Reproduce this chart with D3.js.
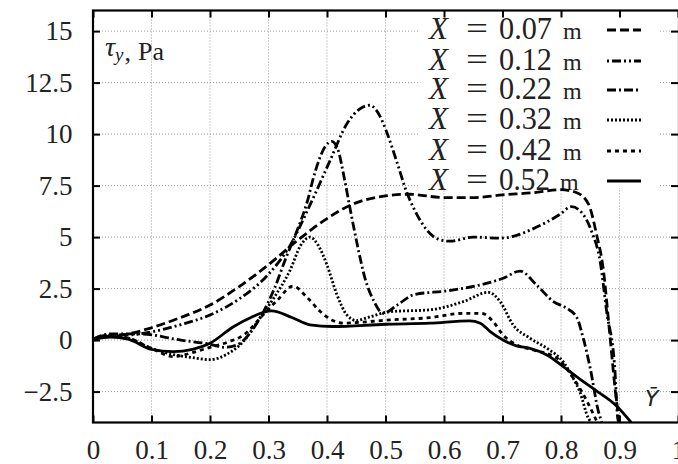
<!DOCTYPE html>
<html><head><meta charset="utf-8">
<script src="https://cdn.jsdelivr.net/npm/d3@7"></script>
<style>html,body{margin:0;padding:0;background:#fff;}svg{display:block;}</style>
</head><body>
<svg id="chart" width="678" height="464"></svg>
<script>
// ---- data ----
const xTicks = [0,0.1,0.2,0.3,0.4,0.5,0.6,0.7,0.8,0.9,1];
const xTickLabels = ["0","0.1","0.2","0.3","0.4","0.5","0.6","0.7","0.8","0.9","1"];
const yTicks = [-2.5,0,2.5,5,7.5,10,12.5,15];
const yTickLabels = ["\u22122.5","0","2.5","5","7.5","10","12.5","15"];
const seriesNames = ["0.07","0.12","0.22","0.32","0.42","0.52"];

const s007 = [[0,0.05],[0.03,0.2],[0.06,0.3],[0.1,0.6],[0.15,1.1],[0.2,1.7],[0.25,2.6],[0.3,3.66],[0.354,4.94],[0.4,5.9],[0.44,6.55],[0.5,7.0],[0.54,7.08],[0.6,6.92],[0.65,6.92],[0.7,7.05],[0.75,7.15],[0.8,7.3],[0.827,7.15],[0.847,6.6],[0.861,5.1],[0.872,3.5],[0.884,0.1],[0.895,-3.0],[0.9,-4]];
const s012 = [[0,0.05],[0.03,0.25],[0.06,0.25],[0.1,0.4],[0.15,0.75],[0.2,1.22],[0.25,2.0],[0.3,3.2],[0.337,4.6],[0.37,6.5],[0.405,8.7],[0.434,10.5],[0.455,11.2],[0.473,11.4],[0.49,10.9],[0.502,10.1],[0.52,8.6],[0.536,7.2],[0.55,6.3],[0.564,5.6],[0.59,4.9],[0.61,4.8],[0.65,5.0],[0.696,4.95],[0.72,5.05],[0.752,5.4],[0.798,6.1],[0.818,6.48],[0.835,6.2],[0.852,5.3],[0.867,3.8],[0.878,1.4],[0.892,-1.4],[0.897,-3.8],[0.899,-4]];
const s022 = [[0,0.05],[0.03,0.3],[0.08,0.3],[0.15,0.0],[0.2,-0.2],[0.225,-0.35],[0.245,-0.25],[0.27,0.4],[0.29,1.3],[0.31,2.5],[0.33,4.0],[0.35,5.4],[0.365,6.6],[0.38,8.2],[0.397,9.4],[0.408,9.65],[0.418,9.3],[0.43,7.8],[0.44,6.3],[0.452,4.6],[0.465,3.0],[0.48,1.9],[0.496,1.3],[0.52,1.7],[0.548,2.2],[0.605,2.39],[0.662,2.68],[0.701,3.0],[0.73,3.35],[0.758,2.68],[0.787,1.87],[0.81,1.54],[0.827,1.1],[0.838,0.1],[0.85,-1.37],[0.864,-3.47],[0.87,-4]];
const s032 = [[0,0.05],[0.03,0.25],[0.06,0.1],[0.1,-0.4],[0.137,-0.7],[0.17,-0.85],[0.2,-0.95],[0.228,-0.7],[0.257,-0.07],[0.285,1.06],[0.308,2.0],[0.337,3.4],[0.355,4.6],[0.371,5.0],[0.385,4.6],[0.4,3.65],[0.417,2.2],[0.434,1.22],[0.45,0.95],[0.47,1.1],[0.508,1.38],[0.576,1.47],[0.633,1.87],[0.676,2.32],[0.696,1.87],[0.718,0.74],[0.747,0.09],[0.776,-0.4],[0.805,-1.1],[0.82,-1.8],[0.832,-2.5],[0.847,-3.8],[0.852,-4]];
const s042 = [[0,0.05],[0.03,0.2],[0.06,0.1],[0.1,-0.4],[0.137,-0.8],[0.171,-0.6],[0.2,-0.35],[0.23,-0.1],[0.26,0.3],[0.29,1.2],[0.314,1.9],[0.342,2.62],[0.365,2.1],[0.388,1.4],[0.408,0.98],[0.428,0.82],[0.45,0.85],[0.508,0.98],[0.576,1.09],[0.633,1.3],[0.664,1.3],[0.684,0.9],[0.701,0.25],[0.724,-0.23],[0.753,-0.48],[0.793,-0.88],[0.82,-1.8],[0.845,-3.0],[0.862,-4]];
const s052 = [[0,0.05],[0.03,0.15],[0.06,0.05],[0.1,-0.45],[0.137,-0.56],[0.17,-0.45],[0.2,-0.15],[0.24,0.65],[0.27,1.1],[0.305,1.42],[0.34,1.1],[0.371,0.74],[0.41,0.66],[0.5,0.77],[0.576,0.82],[0.644,0.93],[0.662,0.82],[0.679,0.41],[0.701,0.0],[0.724,-0.28],[0.747,-0.4],[0.776,-0.72],[0.804,-1.29],[0.83,-1.85],[0.86,-2.45],[0.895,-3.2],[0.92,-4]];
const seriesData = [s007,s012,s022,s032,s042,s052];
const dashes = ["9,4","2,3,9,3,2,3","9,3,2,3","2,2","4,4",null];

// ---- layout ----
const L = 93, R = 679, T = 10.5, B = 422.5;
const svg = d3.select("#chart");
const x = d3.scaleLinear().domain([0,1]).range([L, 678]);
const y = d3.scaleLinear().domain([-4,16]).range([B, T]);
const serif = "Liberation Serif, serif";

// grid
const grid = svg.append("g");
grid.selectAll("line.v").data(xTicks.slice(1,-1)).enter().append("line")
  .attr("x1", d=>x(d)).attr("x2", d=>x(d)).attr("y1", T).attr("y2", B)
  .attr("stroke","#9a9a9a").attr("stroke-width",1).attr("stroke-dasharray","1,2");
grid.selectAll("line.h").data(yTicks).enter().append("line")
  .attr("x1", L).attr("x2", R).attr("y1", d=>y(d)).attr("y2", d=>y(d))
  .attr("stroke","#9a9a9a").attr("stroke-width",1).attr("stroke-dasharray","1,2");

// legend background (opaque box, no border)
svg.append("rect").attr("x",420).attr("y",12).attr("width",238).attr("height",176).attr("fill","#fff");

// axes
const fmtX = d => xTickLabels[xTicks.indexOf(d)];
const fmtY = d => yTickLabels[yTicks.indexOf(d)];
const axB = svg.append("g").attr("transform",`translate(0,${B})`)
  .call(d3.axisBottom(x).tickValues(xTicks).tickFormat(fmtX).tickSize(-7).tickPadding(17));
const axT = svg.append("g").attr("transform",`translate(0,${T})`)
  .call(d3.axisTop(x).tickValues(xTicks).tickFormat("").tickSize(-7));
const axL = svg.append("g").attr("transform",`translate(${L},0)`)
  .call(d3.axisLeft(y).tickValues(yTicks).tickFormat(fmtY).tickSize(-7).tickPadding(20.5));
const axR = svg.append("g").attr("transform",`translate(${R-1},0)`)
  .call(d3.axisRight(y).tickValues(yTicks).tickFormat("").tickSize(-7));
[axB,axT,axL,axR].forEach(g=>{
  g.attr("font-family",serif).attr("font-size",27);
  g.select(".domain").remove();
  g.selectAll(".tick line").attr("stroke","#000").attr("stroke-width",2);
  g.selectAll(".tick text").attr("font-family",serif).attr("font-size",27).attr("fill","#222");
});
// frame
svg.append("rect").attr("x",L).attr("y",T).attr("width",R-L).attr("height",B-T)
  .attr("fill","none").attr("stroke","#000").attr("stroke-width",2.2);

// clip
svg.append("clipPath").attr("id","clip").append("rect")
  .attr("x",L).attr("y",T).attr("width",R-L).attr("height",B-T);

// legend
const legY = [29,60,89,119,150,180];
const leg = svg.append("g");
seriesNames.forEach((n,i)=>{
  const by = legY[i] + 10;
  const t = leg.append("text").attr("y",by).attr("font-family",serif).attr("font-size",31).attr("fill","#222");
  t.append("tspan").attr("x",429).attr("font-style","italic").text("X");
  t.append("tspan").attr("x",466).attr("textLength",22).attr("lengthAdjust","spacingAndGlyphs").text("=");
  t.append("tspan").attr("x",499).attr("textLength",i===5?51:53).attr("lengthAdjust","spacingAndGlyphs").text(n);
  t.append("tspan").attr("x",i===5?560:563).attr("font-size",24).text("m");
  const ln = leg.append("line").attr("x1",607).attr("x2",641).attr("y1",legY[i]+1).attr("y2",legY[i]+1)
    .attr("stroke","#000").attr("stroke-width",3);
  if (dashes[i]) ln.attr("stroke-dasharray", dashes[i]);
});

// curves
const line = d3.line().x(d=>x(d[0])).y(d=>y(d[1])).curve(d3.curveMonotoneX);
const cg = svg.append("g").attr("clip-path","url(#clip)");
seriesData.forEach((s,i)=>{
  const p = cg.append("path").datum(s).attr("d",line).attr("fill","none")
    .attr("stroke","#000").attr("stroke-width",2.8).attr("stroke-linejoin","round");
  if (dashes[i]) p.attr("stroke-dasharray", dashes[i]);
});

// annotations
const ann = svg.append("text").attr("x",105).attr("y",56).attr("font-family",serif).attr("fill","#222");
ann.append("tspan").attr("font-style","italic").attr("font-size",28).text("\u03c4");
ann.append("tspan").attr("font-style","italic").attr("font-size",19).attr("dy",5).text("y");
ann.append("tspan").attr("font-size",26).attr("dx",1).text(",");
ann.append("tspan").attr("font-size",26).attr("dy",-1).attr("dx",7).text("Pa");

svg.append("text").attr("x",645).attr("y",406).attr("font-family","DejaVu Sans, sans-serif")
  .attr("font-style","italic").attr("font-size",22).attr("fill","#222").text("\u0232");
</script>
</body></html>
